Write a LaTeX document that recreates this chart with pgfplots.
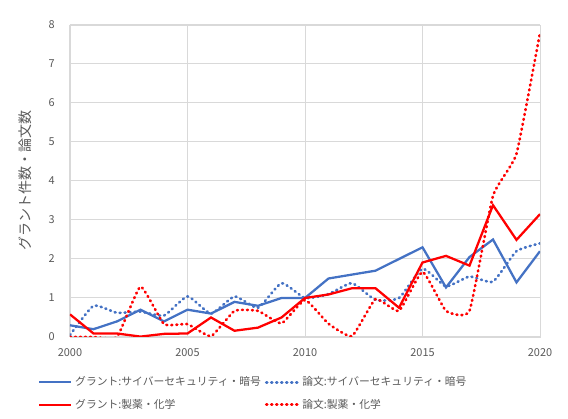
\documentclass[border=0pt]{standalone}
\usepackage{pgfplots}
\pgfplotsset{compat=1.18}
\usepackage{fontspec}
\setmainfont{Noto Sans CJK JP}

\definecolor{exblue}{HTML}{4472C4}
\definecolor{exred}{HTML}{FF0000}
\definecolor{txtgray}{HTML}{595959}
\definecolor{gridgray}{HTML}{D9D9D9}

\tikzset{roundots/.style={line width=2pt, line cap=round, dash pattern=on 0.7pt off 3.05pt}}

% year, grant cyber, paper cyber, grant pharma, paper pharma
\begin{document}
\begin{tikzpicture}
\begin{axis}[
    scale only axis,
    width=352.5pt, height=234pt,
    xmin=2000, xmax=2020,
    ymin=0, ymax=8,
    xtick={2000,2005,2010,2015,2020},
    ytick={0,1,2,3,4,5,6,7,8},
    xticklabel style={/pgf/number format/1000 sep={}, yshift=-5pt},
    yticklabel style={xshift=-8pt},
    /pgf/number format/assume math mode=true,
    ticklabel style={font=\fontsize{8.2pt}{9pt}\selectfont, text=txtgray},
    ylabel={グラント件数・論文数},
    ylabel style={font=\fontsize{10.5pt}{11pt}\selectfont, text=txtgray,
        at={(axis description cs:-0.096,0.5)}, anchor=center},
    axis line style={gridgray},
    ymajorgrids=true, xmajorgrids=true,
    grid style={gridgray, line width=0.75pt},
    major tick length=0pt,
    legend columns=2,
    legend style={
        at={(axis description cs:-0.068,-0.118)}, anchor=north west,
        draw=none, fill=none, inner sep=0pt,
        font=\fontsize{8.1pt}{9pt}\selectfont, text=txtgray,
        row sep=4.5pt,
        /tikz/every even column/.append style={column sep=1pt},
        cells={anchor=west},
    },
    legend image code/.code={\draw[#1] (0pt,0pt) -- (24pt,0pt);},
]
\addplot[exblue, line width=1.7pt] coordinates {
    (2000,0.3) (2001,0.2) (2002,0.4) (2003,0.7) (2004,0.4)
    (2005,0.7) (2006,0.6) (2007,0.9) (2008,0.8) (2009,1.0)
    (2010,1.0) (2011,1.5) (2012,1.6) (2013,1.7) (2014,2.0)
    (2015,2.3) (2016,1.27) (2017,2.05) (2018,2.5) (2019,1.4)
    (2020,2.2)
};
\addlegendentry{グラント:サイバーセキュリティ・暗号}
\addplot[exblue, roundots, smooth, tension=0.3] coordinates {
    (2000,0.05) (2001,0.8) (2002,0.62) (2003,0.65) (2004,0.55)
    (2005,1.04) (2006,0.6) (2007,1.04) (2008,0.75) (2009,1.38)
    (2010,1.0) (2011,1.1) (2012,1.38) (2013,0.95) (2014,1.0)
    (2015,1.75) (2016,1.3) (2017,1.55) (2018,1.42) (2019,2.2)
    (2020,2.4)
};
\addlegendentry{論文:サイバーセキュリティ・暗号}
\addplot[exred, line width=1.7pt] coordinates {
    (2000,0.58) (2001,0.09) (2002,0.09) (2003,0.01) (2004,0.08)
    (2005,0.09) (2006,0.5) (2007,0.16) (2008,0.24) (2009,0.5)
    (2010,1.0) (2011,1.09) (2012,1.25) (2013,1.25) (2014,0.75)
    (2015,1.91) (2016,2.08) (2017,1.83) (2018,3.38) (2019,2.49)
    (2020,3.15)
};
\addlegendentry{グラント:製薬・化学}
\addplot[exred, roundots, smooth, tension=0.25] coordinates {
    (2000,0.0) (2001,0.0) (2002,0.0) (2003,1.29) (2004,0.33)
    (2005,0.33) (2006,0.02) (2007,0.67) (2008,0.67) (2009,0.35)
    (2010,0.95) (2011,0.34) (2012,0.02) (2013,0.97) (2014,0.67)
    (2015,1.67) (2016,0.67) (2017,0.67) (2018,3.62) (2019,4.7)
    (2020,7.8)
};
\addlegendentry{論文:製薬・化学}
\end{axis}
\path (current axis.south west) ++(-52.5pt,-61.5pt) coordinate (bbsw);
\path (current axis.north east) ++(21pt,18.75pt) coordinate (bbne);
\path (bbsw) rectangle (bbne);
\end{tikzpicture}
\end{document}
